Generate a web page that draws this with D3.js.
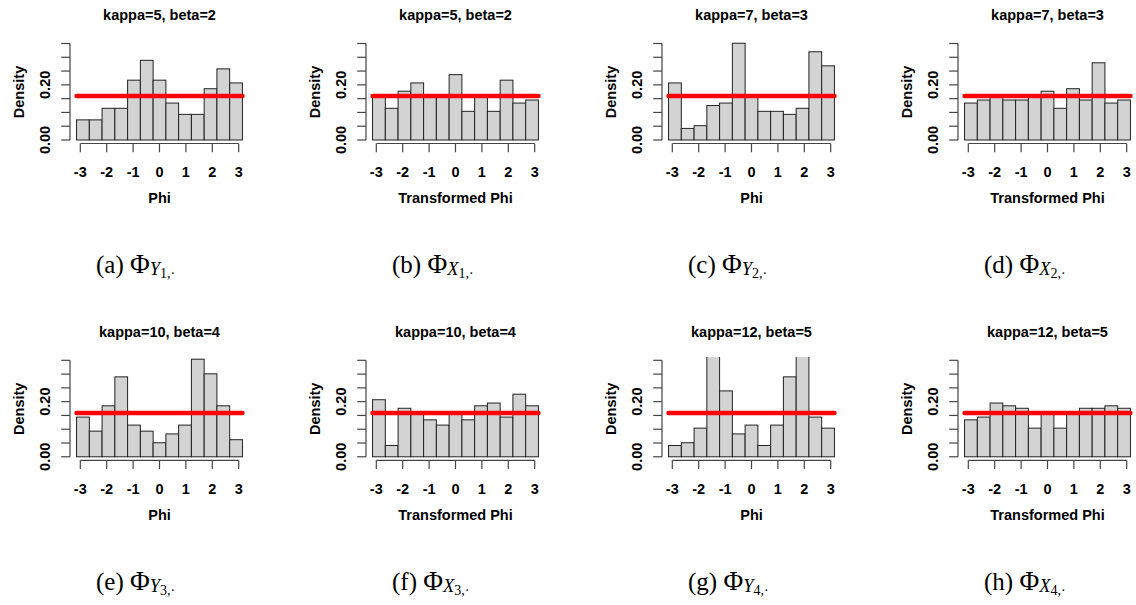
<!DOCTYPE html>
<html>
<head>
<meta charset="utf-8">
<script src="https://cdn.jsdelivr.net/npm/d3@7"></script>
<style>
  body { margin: 0; background: #fff; }
  svg { display: block; }
  .sans { font-family: "Liberation Sans", Arial, Helvetica, sans-serif; font-weight: bold; font-size: 14.5px; }
  .cap { font-family: "Liberation Serif", "Times New Roman", serif; }
</style>
</head>
<body>
<div id="chart"></div>
<script>
// Histogram densities, 13 bins over [-pi, pi]
const phiY1 = [0.073, 0.073, 0.115, 0.115, 0.217, 0.289, 0.217, 0.134, 0.093, 0.093, 0.186, 0.258, 0.207];
const phiX1 = [0.157, 0.115, 0.177, 0.207, 0.155, 0.155, 0.237, 0.104, 0.155, 0.104, 0.217, 0.134, 0.145];
const phiY2 = [0.207, 0.042, 0.052, 0.125, 0.134, 0.351, 0.157, 0.104, 0.104, 0.093, 0.115, 0.320, 0.269];
const phiX2 = [0.134, 0.145, 0.155, 0.145, 0.145, 0.155, 0.177, 0.115, 0.186, 0.145, 0.280, 0.134, 0.145];
const phiY3 = [0.144, 0.093, 0.185, 0.290, 0.115, 0.093, 0.051, 0.083, 0.115, 0.354, 0.301, 0.185, 0.062];
const phiX3 = [0.207, 0.041, 0.176, 0.158, 0.134, 0.115, 0.158, 0.134, 0.185, 0.195, 0.144, 0.227, 0.185];
const phiY4 = [0.041, 0.051, 0.104, 0.370, 0.239, 0.083, 0.115, 0.041, 0.115, 0.290, 0.370, 0.144, 0.104];
const phiX4 = [0.134, 0.144, 0.195, 0.185, 0.176, 0.104, 0.158, 0.104, 0.158, 0.176, 0.176, 0.185, 0.176];

const panelData = [phiY1, phiX1, phiY2, phiX2, phiY3, phiX3, phiY4, phiX4];
const titles = ["kappa=5, beta=2", "kappa=5, beta=2", "kappa=7, beta=3", "kappa=7, beta=3",
                "kappa=10, beta=4", "kappa=10, beta=4", "kappa=12, beta=5", "kappa=12, beta=5"];
const xLabels = ["Phi", "Transformed Phi", "Phi", "Transformed Phi",
                 "Phi", "Transformed Phi", "Phi", "Transformed Phi"];
const capLetters = ["a", "b", "c", "d", "e", "f", "g", "h"];
const capVars = ["Y", "X", "Y", "X", "Y", "X", "Y", "X"];
const capIdx = ["1", "1", "2", "2", "3", "3", "4", "4"];
const xTicks = [-3, -2, -1, 0, 1, 2, 3];
const yTicks = [0, 0.05, 0.1, 0.15, 0.2, 0.25, 0.3, 0.35];
const yTickLabels = { 0: "0.00", 0.2: "0.20" };
const uniformDensity = 1 / (2 * Math.PI);

const width = 1136, height = 605;
const colStep = 296, rowStep = 316.8;
const nBins = 13;
const edges = d3.range(nBins + 1).map(i => -Math.PI + i * 2 * Math.PI / nBins);

const svg = d3.select('#chart').append('svg')
    .attr('width', width)
    .attr('height', height);

// one clip for the plot region (local panel coords)
svg.append('defs').append('clipPath')
    .attr('id', 'plotclip')
    .append('rect')
    .attr('x', 60).attr('y', 40.3)
    .attr('width', 200).attr('height', 110);

panelData.forEach((vals, i) => {
    const col = i % 4, row = Math.floor(i / 4);
    const g = svg.append('g')
        .attr('transform', `translate(${col * colStep}, ${row * rowStep})`);

    const x = d3.scaleLinear().domain([-3, 3]).range([80.3, 238.7]);
    const y = d3.scaleLinear().domain([0, 0.35]).range([140, 43.5]);

    // bars
    const bins = vals.map((v, k) => ({ x0: edges[k], x1: edges[k + 1], v }));
    g.append('g')
        .attr('clip-path', 'url(#plotclip)')
        .selectAll('rect')
        .data(bins)
        .enter()
        .append('rect')
        .attr('x', d => x(d.x0))
        .attr('y', d => y(d.v))
        .attr('width', d => x(d.x1) - x(d.x0))
        .attr('height', d => y(0) - y(d.v))
        .attr('fill', '#d3d3d3')
        .attr('stroke', '#222')
        .attr('stroke-width', 1);

    // uniform density line
    g.append('line')
        .attr('x1', x(-Math.PI)).attr('x2', x(Math.PI))
        .attr('y1', y(uniformDensity)).attr('y2', y(uniformDensity))
        .attr('stroke', '#ff0000')
        .attr('stroke-width', 4.5)
        .attr('stroke-linecap', 'round');

    // x axis (R style, below the plot)
    const xa = g.append('g').attr('transform', 'translate(0, 143.5)');
    xa.append('line')
        .attr('x1', x(-3)).attr('x2', x(3))
        .attr('stroke', '#444').attr('stroke-width', 1.2);
    xa.selectAll('line.tick')
        .data(xTicks)
        .enter()
        .append('line')
        .attr('class', 'tick')
        .attr('x1', d => x(d)).attr('x2', d => x(d))
        .attr('y1', 0).attr('y2', 8.8)
        .attr('stroke', '#444').attr('stroke-width', 1.2);
    xa.selectAll('text')
        .data(xTicks)
        .enter()
        .append('text')
        .attr('class', 'sans')
        .attr('x', d => x(d))
        .attr('y', 33.5)
        .attr('text-anchor', 'middle')
        .text(d => d);

    // y axis
    const ya = g.append('g').attr('transform', 'translate(70, 0)');
    ya.append('line')
        .attr('y1', y(0)).attr('y2', y(0.35))
        .attr('stroke', '#444').attr('stroke-width', 1.2);
    ya.selectAll('line.tick')
        .data(yTicks)
        .enter()
        .append('line')
        .attr('class', 'tick')
        .attr('y1', d => y(d)).attr('y2', d => y(d))
        .attr('x1', 0).attr('x2', -8.8)
        .attr('stroke', '#444').attr('stroke-width', 1.2);
    ya.selectAll('text')
        .data(yTicks.filter(d => yTickLabels[d] !== undefined))
        .enter()
        .append('text')
        .attr('class', 'sans')
        .attr('transform', d => `translate(-20, ${y(d)}) rotate(-90)`)
        .attr('text-anchor', 'middle')
        .text(d => yTickLabels[d]);

    // titles and labels
    g.append('text')
        .attr('class', 'sans')
        .attr('x', x(0)).attr('y', 20)
        .attr('text-anchor', 'middle')
        .text(titles[i]);
    g.append('text')
        .attr('class', 'sans')
        .attr('x', x(0)).attr('y', 203)
        .attr('text-anchor', 'middle')
        .text(xLabels[i]);
    g.append('text')
        .attr('class', 'sans')
        .attr('transform', 'translate(23.5, 92) rotate(-90)')
        .attr('text-anchor', 'middle')
        .text('Density');

    // sub-figure caption
    const cap = g.append('text')
        .attr('class', 'cap')
        .attr('x', 96).attr('y', 273)
        .attr('font-size', 25);
    cap.append('tspan').text(`(${capLetters[i]}) `);
    cap.append('tspan').attr('font-size', 27).text('\u03A6');
    cap.append('tspan')
        .attr('font-size', 18.5).attr('font-style', 'italic')
        .attr('dy', 2)
        .text(capVars[i]);
    cap.append('tspan')
        .attr('font-size', 14)
        .attr('dy', 3)
        .text(capIdx[i] + ',\u00B7');
});
</script>
</body>
</html>
